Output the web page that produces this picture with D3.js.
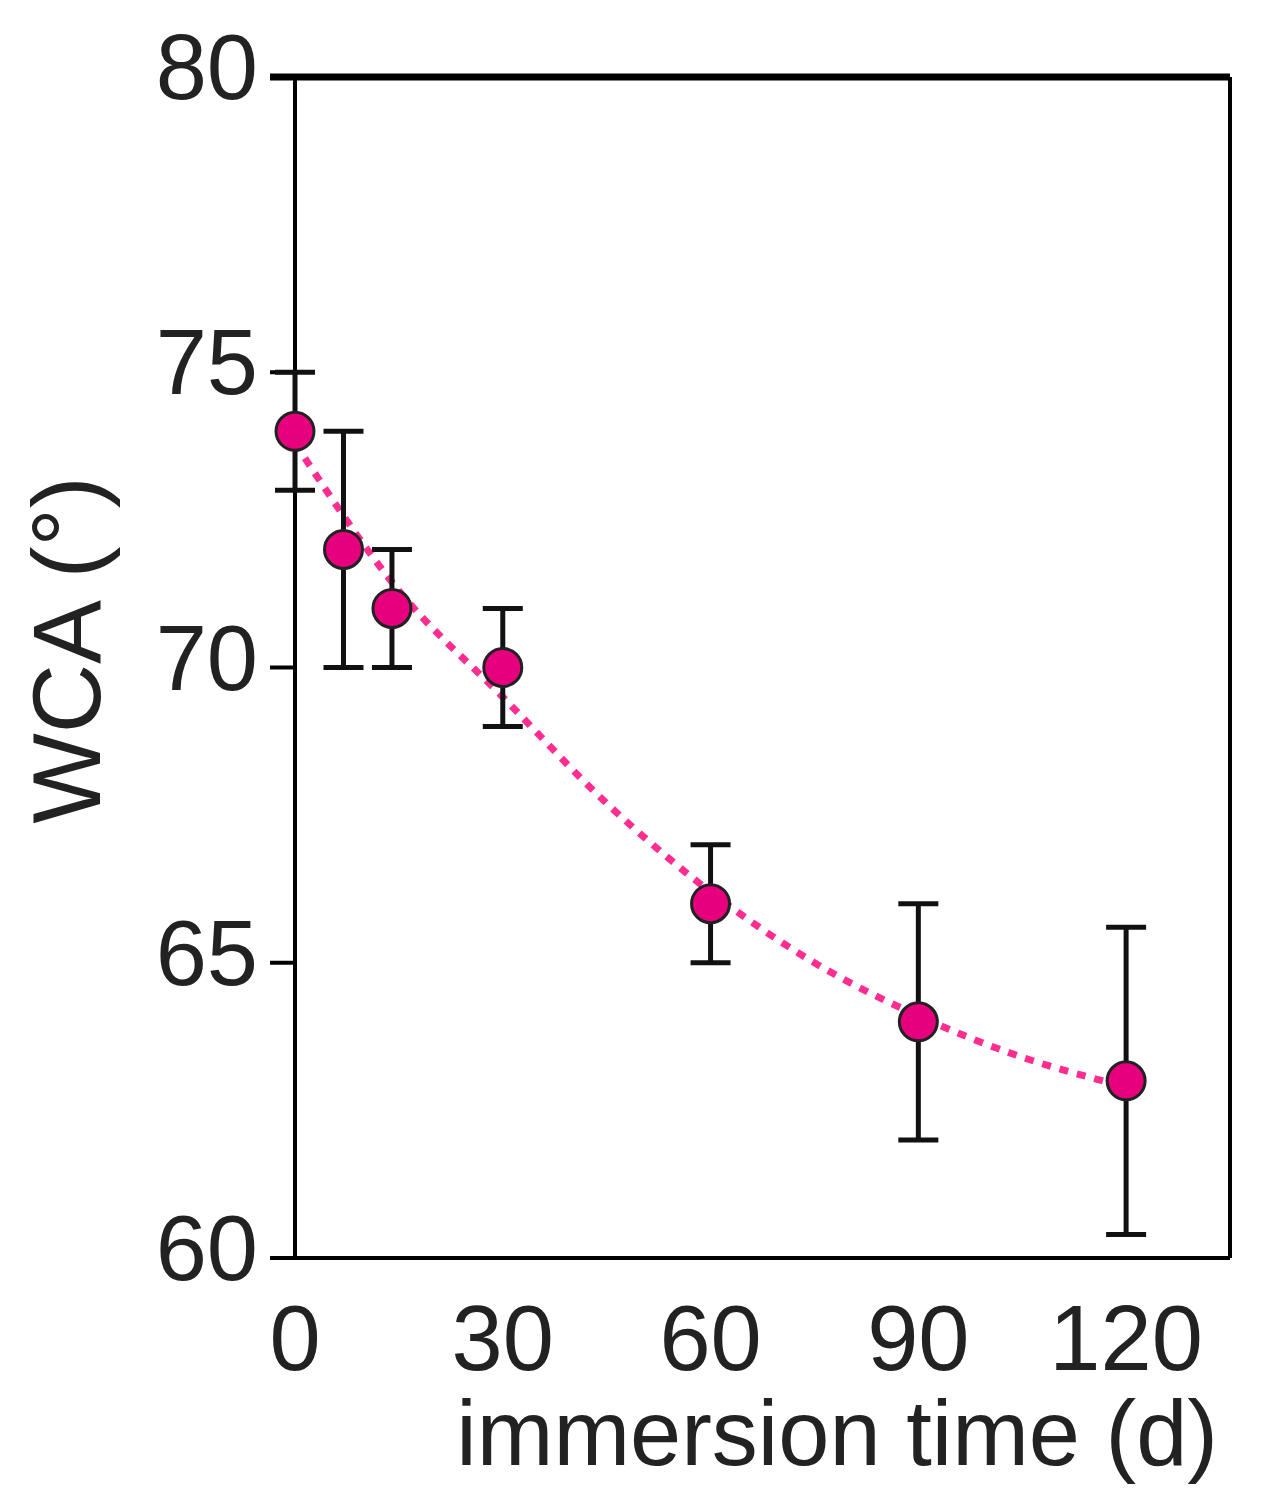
<!DOCTYPE html>
<html><head><meta charset="utf-8">
<script src="https://cdn.jsdelivr.net/npm/d3@7"></script>
<style>body{margin:0;background:#fff}</style></head>
<body><svg id="c" width="1264" height="1509"></svg>
<script>
const days = [0, 7, 14, 30, 60, 90, 120];
const wca = [74, 72, 71, 70, 66, 64, 63];
const errLow = [73, 70, 70, 69, 65, 62, 60.4];
const errHigh = [75, 74, 72, 71, 67, 66, 65.6];
const fitDays = [0, 15, 30, 45, 60, 75, 90, 105, 120];
const fitWCA = [73.8, 71.3, 69.5, 67.7, 66.2, 65.0, 64.1, 63.4, 62.9];
const yTicks = [60, 65, 70, 75, 80];
const xTicks = [0, 30, 60, 90, 120];

const svg = d3.select("#c");
const x = d3.scaleLinear().domain([0, 135]).range([295, 1230]);
const y = d3.scaleLinear().domain([60, 80]).range([1258, 77]);
const font = "Liberation Sans, Arial, sans-serif";

svg.append("line").attr("x1",270).attr("x2",1230).attr("y1",77).attr("y2",77).attr("stroke","#000").attr("stroke-width",7);
svg.append("line").attr("x1",1230).attr("x2",1230).attr("y1",77).attr("y2",1258).attr("stroke","#000").attr("stroke-width",4);
svg.append("line").attr("x1",270).attr("x2",1230).attr("y1",1258).attr("y2",1258).attr("stroke","#000").attr("stroke-width",4);
svg.append("line").attr("x1",295).attr("x2",295).attr("y1",77).attr("y2",1258).attr("stroke","#000").attr("stroke-width",4);

yTicks.forEach(t=>{
  svg.append("line").attr("x1",270).attr("x2",295).attr("y1",y(t)).attr("y2",y(t)).attr("stroke","#000").attr("stroke-width",4);
  svg.append("text").attr("x",258).attr("y",y(t)+22).attr("text-anchor","end")
    .attr("font-family",font).attr("font-size",92).attr("fill","#222").text(t);
});
xTicks.forEach(t=>{
  svg.append("text").attr("x",x(t)).attr("y",1370).attr("text-anchor","middle")
    .attr("font-family",font).attr("font-size",92).attr("fill","#222").text(t);
});
svg.append("text").attr("x",1218).attr("y",1465).attr("text-anchor","end")
  .attr("font-family",font).attr("font-size",92).attr("fill","#222").text("immersion time (d)");
svg.append("text").attr("transform","translate(100,650) rotate(-90)").attr("text-anchor","middle")
  .attr("font-family",font).attr("font-size",96).attr("fill","#222").text("WCA (°)");

const line = d3.line().x((d,i)=>x(fitDays[i])).y(d=>y(d)).curve(d3.curveMonotoneX);
svg.append("path").datum(fitWCA).attr("d",line).attr("fill","none")
  .attr("stroke","#ff2d8f").attr("stroke-width",7).attr("stroke-dasharray","9,9");

days.forEach((d,i)=>{
  const g = svg.append("g").attr("stroke","#111").attr("stroke-width",5);
  g.append("line").attr("x1",x(d)).attr("x2",x(d)).attr("y1",y(errLow[i])).attr("y2",y(errHigh[i]));
  [errLow[i], errHigh[i]].forEach(v=>g.append("line").attr("x1",x(d)-20).attr("x2",x(d)+20).attr("y1",y(v)).attr("y2",y(v)));
});
svg.selectAll("circle.p").data(days).enter().append("circle")
  .attr("cx",d=>x(d)).attr("cy",(d,i)=>y(wca[i])).attr("r",19)
  .attr("fill","#e6007e").attr("stroke","#222").attr("stroke-width",3);
</script></body></html>
